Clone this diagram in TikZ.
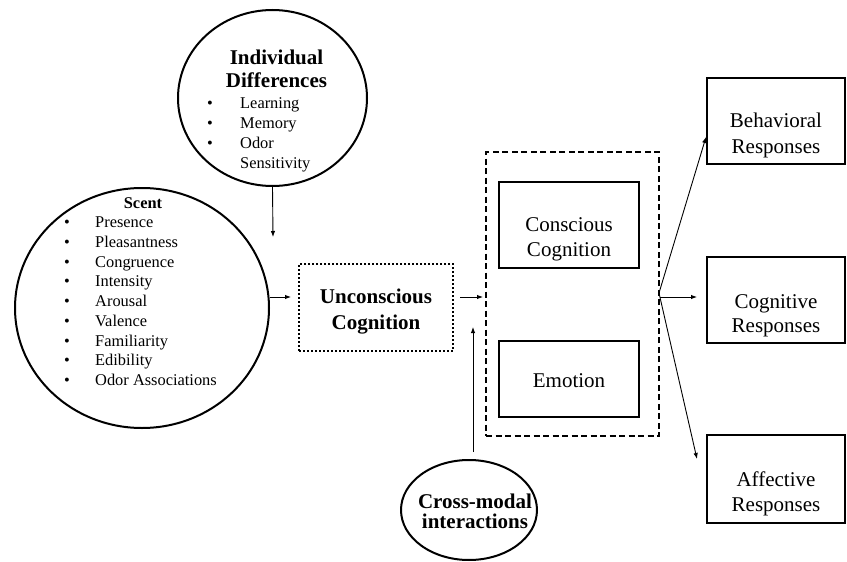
\documentclass[tikz,border=0pt]{standalone}
\usepackage{fontspec}
\setmainfont{Liberation Serif}
\usetikzlibrary{shapes.geometric,arrows.meta}
\begin{document}
\begin{tikzpicture}[x=1pt,y=-1pt,
  ell/.style={draw,ellipse,line width=2pt,inner sep=0pt},
  box/.style={draw,rectangle,line width=2pt,inner sep=0pt},
  arr/.style={line width=0.9pt,-{Latex[length=6pt,width=4.5pt]}},
  big/.style={font=\fontsize{21}{25}\selectfont,inner sep=0pt,anchor=base},
  bigb/.style={font=\fontsize{21}{25}\selectfont\bfseries,inner sep=0pt,anchor=base},
  sm/.style={font=\fontsize{16.4}{20}\selectfont,inner sep=0pt,anchor=base west},
  bul/.style={font=\fontsize{16.4}{20}\selectfont,inner sep=0pt,anchor=base},
  smb/.style={font=\fontsize{16.4}{20}\selectfont\bfseries,inner sep=0pt,anchor=base},
]
\useasboundingbox (0,0) rectangle (847,562);

% shapes
\node[ell,minimum width=189pt,minimum height=176pt] (indiv) at (272.5,98) {};
\node[ell,minimum width=254pt,minimum height=240pt] (scent) at (142,308) {};
\node[ell,minimum width=136pt,minimum height=100pt] (cross) at (469,510) {};
\node[box,dash pattern=on 2pt off 2pt,minimum width=154pt,minimum height=87pt] (unc) at (376,307.5) {};
\node[box,dash pattern=on 6pt off 3.5pt,minimum width=173pt,minimum height=284pt] (dash) at (572.5,294) {};
\node[box,minimum width=140pt,minimum height=86pt] (cons) at (569,225) {};
\node[box,minimum width=140pt,minimum height=76pt] (emo) at (569,379) {};
\node[box,minimum width=138pt,minimum height=86pt] (beh) at (776,121) {};
\node[box,minimum width=138pt,minimum height=86pt] (cog) at (776,300) {};
\node[box,minimum width=138pt,minimum height=88pt] (aff) at (776,479) {};

% Individual differences text
\node[bigb] (t1) at (276.5,64) {Individual};
\node[bigb] (t2) at (276.5,87) {Differences};
\node[bul] (b1) at (210,108.5) {•};
\node[bul] (b2) at (210,128.5) {•};
\node[bul] (b3) at (210,148.5) {•};
\node[sm] (i1) at (240,108.5) {Learning};
\node[sm] (i2) at (240,128.5) {Memory};
\node[sm] (i3) at (240,148.5) {Odor};
\node[sm] (i4) at (240,168.5) {Sensitivity};

% Scent text
\node[smb] (st) at (143,208.5) {Scent};
\foreach \t [count=\k from 0] in {Presence,Pleasantness,Congruence,Intensity,Arousal,Valence,Familiarity,Edibility,Odor Associations}{
  \node[bul] (sb\k) at (67,227.5+19.75*\k) {•};
  \node[sm] (si\k) at (95,227.5+19.75*\k) {\t};
}

% box texts
\node[bigb] (u1) at (376,303) {Unconscious};
\node[bigb] (u2) at (376,329) {Cognition};
\node[big] (c1) at (569,231) {Conscious};
\node[big] (c2) at (569,256) {Cognition};
\node[big] (e1) at (569,387) {Emotion};
\node[big] (r1) at (776,127) {Behavioral};
\node[big] (r2) at (776,153) {Responses};
\node[big] (r3) at (776,308) {Cognitive};
\node[big] (r4) at (776,332) {Responses};
\node[big] (r5) at (776,486) {Affective};
\node[big] (r6) at (776,511) {Responses};
\node[bigb] (x1) at (475,508) {Cross-modal};
\node[bigb] (x2) at (475,528) {interactions};

% connectors
\coordinate (idEnd) at (273,237);
\coordinate (cmStart) at (473,452);
\coordinate (cmTip) at (473,327);
\coordinate (junc) at (659,293);
\draw[arr] (indiv.south) -- (idEnd);
\draw[arr] ([yshift=11pt]scent.east) -- ([yshift=10.5pt,xshift=-7pt]unc.west);
\draw[arr] ([yshift=10.5pt,xshift=6pt]unc.east) -- ([yshift=-3pt,xshift=-2pt]dash.west);
\draw[arr] (cmStart) -- (cmTip);
\draw[arr] (junc) -- ([yshift=-16pt]beh.west);
\draw[arr] ([yshift=-3pt]dash.east) -- ([xshift=-9pt,yshift=3pt]cog.west);
\draw[arr] (junc) -- ([xshift=-9pt,yshift=20pt]aff.west);
\end{tikzpicture}
\end{document}
